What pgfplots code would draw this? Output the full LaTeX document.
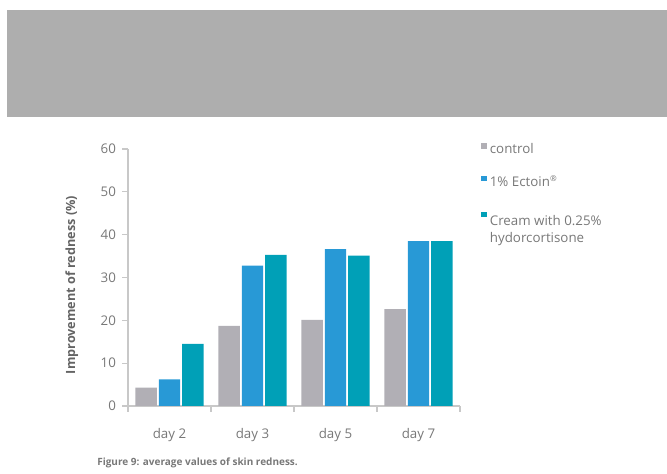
\documentclass[border=0pt]{standalone}
\usepackage{pgfplots}
\pgfplotsset{compat=1.18}
\usepackage{fontspec}
\setmainfont{Open Sans}
\definecolor{bannergray}{RGB}{174,174,174}
\definecolor{ctrlgray}{RGB}{177,175,181}
\definecolor{ectoinblue}{RGB}{40,153,214}
\definecolor{creamteal}{RGB}{0,160,183}
\definecolor{axisgray}{RGB}{200,200,200}
\definecolor{txtgray}{RGB}{120,120,120}
\pgfplotstableread{
x control ectoin cream
0 4.3 6.2 14.5
1 18.7 32.8 35.3
2 20.1 36.6 35.1
3 22.6 38.5 38.5
}\datatable
\begin{document}
\begin{tikzpicture}
\useasboundingbox (0pt,0pt) rectangle (500.25pt,355.5pt);
\fill[bannergray] (5.25pt,267.75pt) rectangle (500.25pt,348pt);
\begin{axis}[
  at={(96pt,51pt)}, anchor=south west,
  scale only axis,
  width=249pt, height=192.75pt,
  xmin=-0.5, xmax=3.5, ymin=0, ymax=60,
  ybar=1.5pt, bar width=16.1pt,
  axis x line*=bottom, axis y line*=left,
  axis line style={draw=axisgray, line width=0.8pt, -},
  tick style={draw=axisgray, line width=0.8pt},
  tick align=outside, major tick length=4.5pt,
  ytick={0,10,...,60},
  xtick={-0.5,0.5,1.5,2.5,3.5},
  xticklabels={day 2,day 3,day 5,day 7},
  x tick label as interval,
  /pgf/number format/assume math mode=true,
  ticklabel style={font=\fontsize{10}{12}\selectfont, text=txtgray},
  xticklabel style={yshift=-9pt},
  yticklabel style={xshift=-1pt},
  ylabel={Improvement of redness (\%)},
  ylabel style={at={(axis description cs:-0.169,0.471)}, anchor=center, font=\fontsize{9.5}{11}\selectfont\bfseries, text={rgb,255:red,100;green,100;blue,100}},
  legend image code/.code={\fill[#1] (0pt,0.6pt) rectangle (4pt,4.6pt);},
  legend style={at={(1.051,1.043)}, anchor=north west, draw=none, fill=none,
    font=\fontsize{10}{12}\selectfont, text=txtgray, row sep=11pt,
    nodes={inner xsep=2.5pt}},
  legend cell align=left,
]
\addplot[fill=ctrlgray, draw=none] table[x=x,y=control] {\datatable};
\addplot[fill=ectoinblue, draw=none] table[x=x,y=ectoin] {\datatable};
\addplot[fill=creamteal, draw=none] table[x=x,y=cream] {\datatable};
\legend{control, 1\% Ectoin\textsuperscript{\fontsize{6}{6}\selectfont\textregistered}, {\begin{tabular}[t]{@{}l@{}}\rule{0pt}{13pt}Cream with 0.25\%\\[1pt]hydorcortisone\end{tabular}}}
\end{axis}
\node[anchor=west, text=txtgray, font=\fontsize{7.5}{9}\selectfont\bfseries, inner sep=0pt] at (72.75pt,8.25pt) {Figure 9: average values of skin redness.};
\end{tikzpicture}
\end{document}
